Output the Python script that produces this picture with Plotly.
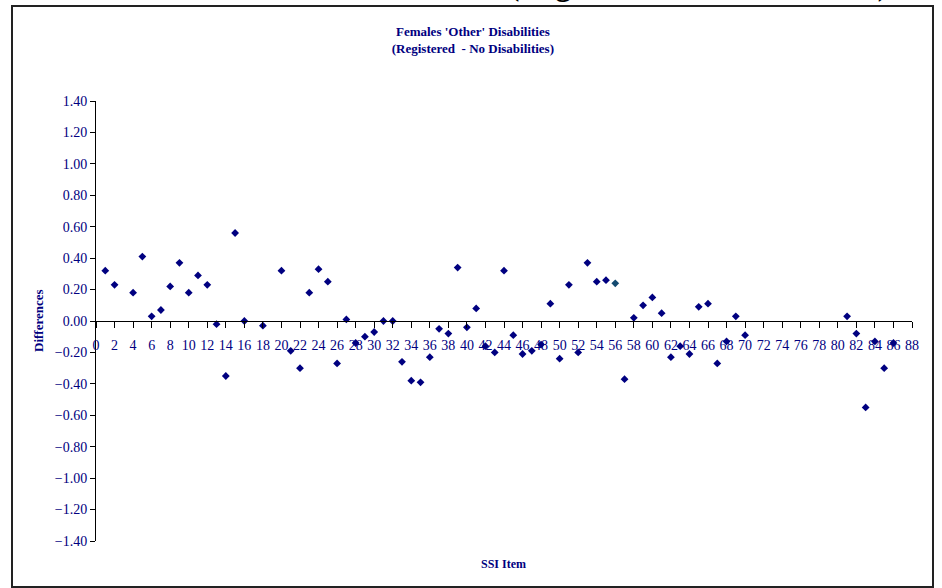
import plotly.graph_objects as go

# ---- data ----
items = [1, 2, 4, 5, 6, 7, 8, 9, 10, 11, 12, 13, 14, 15, 16, 18, 20, 21, 22, 23,
         24, 25, 26, 27, 28, 29, 30, 31, 32, 33, 34, 35, 36, 37, 38, 39, 40, 41,
         42, 43, 44, 45, 46, 47, 48, 49, 50, 51, 52, 53, 54, 55, 56, 57, 58, 59,
         60, 61, 62, 63, 64, 65, 66, 67, 68, 69, 70, 81, 82, 83, 84, 85, 86]
differences = [0.32, 0.23, 0.18, 0.41, 0.03, 0.07, 0.22, 0.37, 0.18, 0.29, 0.23,
               -0.02, -0.35, 0.56, 0.00, -0.03, 0.32, -0.19, -0.30, 0.18,
               0.33, 0.25, -0.27, 0.01, -0.14, -0.10, -0.07, 0.00, 0.00, -0.26,
               -0.38, -0.39, -0.23, -0.05, -0.08, 0.34, -0.04, 0.08,
               -0.16, -0.20, 0.32, -0.09, -0.21, -0.19, -0.15, 0.11, -0.24, 0.23,
               -0.20, 0.37, 0.25, 0.26, 0.24, -0.37, 0.02, 0.10,
               0.15, 0.05, -0.23, -0.16, -0.21, 0.09, 0.11, -0.27, -0.13, 0.03,
               -0.09, 0.03, -0.08, -0.55, -0.13, -0.30, -0.14]
highlight_item = 56

title_text = "Females 'Other' Disabilities<br>(Registered  - No Disabilities)"
top_cut_text = "(Registered - No Disabilities)"
x_title = "SSI Item"
y_title = "Differences"

NAVY = "#000080"
SERIF = "Liberation Serif, Times New Roman, serif"

# figure geometry (pixels)
W, H = 942, 588
L, R, T, B = 96, 30, 101, 47
PW, PH = W - L - R, H - T - B


def px_x(p):
    return (p - L) / PW


def px_y(p):
    return (H - B - p) / PH


colors = ["#134a70" if i == highlight_item else NAVY for i in items]

fig = go.Figure()
fig.add_trace(go.Scatter(
    x=items, y=differences, mode="markers",
    marker=dict(symbol="diamond", size=6, color=colors, line=dict(width=0)),
    showlegend=False,
))

fig.update_layout(
    width=W, height=H,
    margin=dict(l=L, r=R, t=T, b=B, autoexpand=False),
    paper_bgcolor="white", plot_bgcolor="white",
    title=dict(text="<b>" + title_text.replace("<br>", "</b><br><b>") + "</b>",
               x=0.502, xref="container", xanchor="center",
               y=1 - 36 / H, yref="container", yanchor="middle",
               font=dict(family=SERIF, size=13, color=NAVY)),
    font=dict(family=SERIF, color=NAVY),
    xaxis=dict(range=[0, 88], dtick=2, tick0=0, anchor="free", position=0.5,
               showline=True, linecolor="black", linewidth=1,
               ticks="outside", ticklen=6, tickcolor="black", tickwidth=1,
               tickangle=0, ticklabelstandoff=5,
               tickfont=dict(family=SERIF, size=14, color=NAVY),
               showgrid=False, zeroline=False),
    yaxis=dict(range=[-1.4, 1.4], dtick=0.2, tick0=0, tickformat=".2f",
               showline=True, linecolor="black", linewidth=1,
               ticks="outside", ticklen=5, tickcolor="black", tickwidth=1,
               tickfont=dict(family=SERIF, size=14, color=NAVY),
               showgrid=False, zeroline=False),
)

fig.add_annotation(text="<b>" + x_title + "</b>", xref="paper", yref="paper",
                   x=px_x(503), y=px_y(564), showarrow=False,
                   xanchor="center", yanchor="middle",
                   font=dict(family=SERIF, size=12, color=NAVY))
fig.add_annotation(text="<b>" + y_title + "</b>", xref="paper", yref="paper",
                   x=px_x(38), y=0.5, textangle=-90, showarrow=False,
                   xanchor="center", yanchor="middle",
                   font=dict(family=SERIF, size=13, color=NAVY))
fig.add_annotation(text="<b>" + top_cut_text + "</b>", xref="paper", yref="paper",
                   x=px_x(698), y=px_y(-16), showarrow=False,
                   xanchor="center", yanchor="middle",
                   font=dict(family=SERIF, size=31, color="black"))

fig.add_shape(type="rect", xref="paper", yref="paper",
              x0=px_x(12), x1=px_x(933), y0=px_y(587), y1=px_y(6),
              line=dict(color="#222222", width=2), fillcolor="rgba(0,0,0,0)",
              layer="above")

fig.write_html("out.html",
               config={"displayModeBar": False},
               post_script="document.body.style.margin='0';"
                           "document.body.style.padding='0';")
